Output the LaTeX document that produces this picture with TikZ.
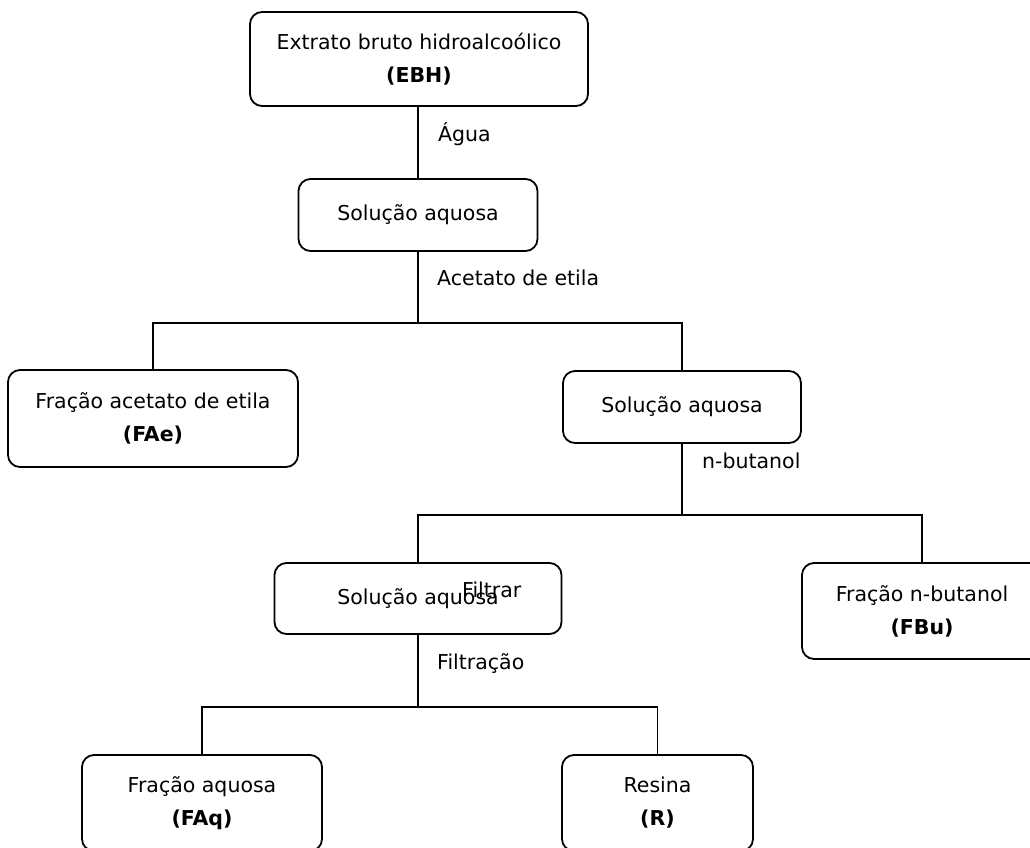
\documentclass[tikz,border=0pt]{standalone}
\usepackage{fontspec}
\setmainfont{DejaVu Sans}

\begin{document}
\begin{tikzpicture}[x=1pt,y=-1pt,font=\fontsize{20.5}{33}\selectfont,
        box/.style={draw,rounded corners=12pt,line width=1.8pt,align=center,inner sep=0pt},
        lbl/.style={anchor=base west,inner sep=0pt},
        link/.style={line width=1.8pt}]
        \useasboundingbox (0,0) rectangle (1030,848);
        \begin{scope}
            % caixas
            \node [box,minimum width=338pt,minimum height=94pt] (ebh) at (419,59) {Extrato bruto hidroalcoólico\\\textbf{(EBH)}};
            \node [box,minimum width=239pt,minimum height=72pt] (sol1) at (418,215) {Solução aquosa};
            \node [box,minimum width=290pt,minimum height=97pt] (fae) at (153,418.5) {Fração acetato de etila\\\textbf{(FAe)}};
            \node [box,minimum width=238pt,minimum height=72pt] (sol2) at (682,407) {Solução aquosa};
            \node [box,minimum width=287pt,minimum height=71pt] (sol3) at (418,598.5) {Solução aquosa};
            \node [box,minimum width=240pt,minimum height=96pt] (fbu) at (922,611) {Fração n-butanol\\\textbf{(FBu)}};
            \node [box,minimum width=240pt,minimum height=96pt] (faq) at (202,803) {Fração aquosa\\\textbf{(FAq)}};
            \node [box,minimum width=191pt,minimum height=96pt] (res) at (657.5,803) {Resina\\\textbf{(R)}};
            % rotulos
            \node [lbl] (agua) at (438,141) {Água};
            \node [lbl] (acet) at (437,285) {Acetato de etila};
            \node [lbl] (buta) at (702,468) {n-butanol};
            \node [lbl] (filtrar) at (462,597) {Filtrar};
            \node [lbl] (filtracao) at (437,669) {Filtração};
            % ligacoes
            \coordinate (bar1) at (418,323);
            \coordinate (bar2) at (682,515);
            \coordinate (bar3) at (418,707);
            \draw [link] (sol1.north) -- (sol1.north |- ebh.south);
            \draw [link] (sol1.south) -- (bar1);
            \draw [link] (fae.north) -- (fae.north |- bar1) -- (sol2.north |- bar1) -- (sol2.north);
            \draw [link] (sol2.south) -- (bar2);
            \draw [link] (sol3.north) -- (sol3.north |- bar2) -- (fbu.north |- bar2) -- (fbu.north);
            \draw [link] (sol3.south) -- (bar3);
            \draw [link] (faq.north) -- (faq.north |- bar3) -- (res.north |- bar3) -- (res.north);
        \end{scope}
    \end{tikzpicture}
\end{document}
